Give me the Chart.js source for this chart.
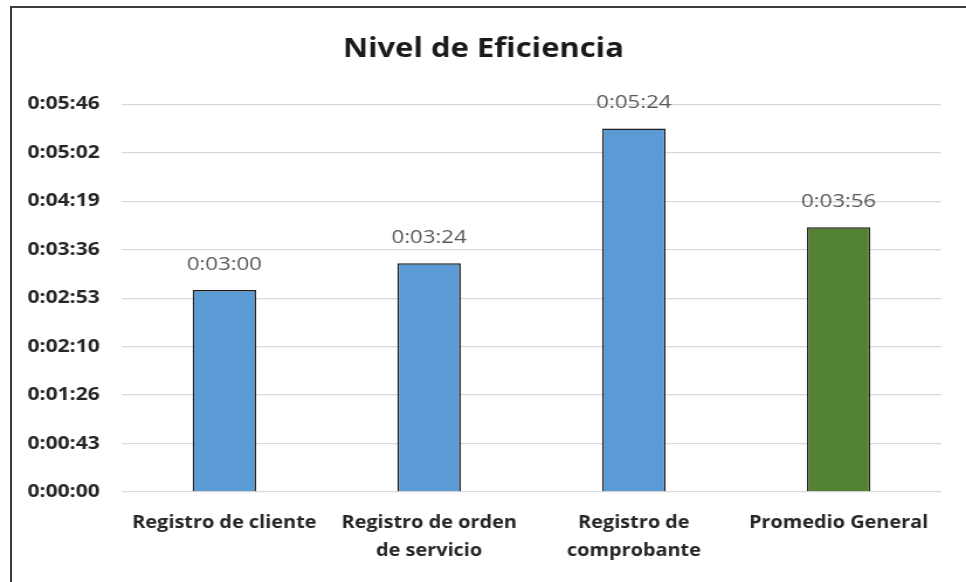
<!DOCTYPE html>
<html>
<head>
<meta charset="utf-8">
<script src="https://cdn.jsdelivr.net/npm/chart.js@4/dist/chart.umd.min.js"></script>
<style>
    body { margin: 0; background: #fff; overflow: hidden; }
    #frame { position: absolute; left: 10px; top: 6px; width: 1000px; height: 640px; border: 2px solid #3c3c3c; }
    /* the source picture is drawn a little wide, so stretch the chart horizontally */
    #wrap { position: absolute; left: 0; top: 0; width: 826px; height: 582px; transform: scaleX(1.1695); transform-origin: 0 0; }
</style>
</head>
<body>
<div id="frame"></div>
<div id="wrap"><canvas id="myChart"></canvas></div>
<script>
// categories and values (seconds)
const labels = [
    "Registro de cliente",
    ["Registro de orden", "de servicio"],
    ["Registro de", "comprobante"],
    "Promedio General"
];
const seconds = [180, 204, 324, 236];
const barColors = ["#5b9bd5", "#5b9bd5", "#5b9bd5", "#548235"];

// y axis ticks as shown in the picture
const tickValues = [0, 43.2, 86.4, 129.6, 172.8, 216, 259.2, 302.4, 345.6];
const tickLabels = ["0:00:00", "0:00:43", "0:01:26", "0:02:10", "0:02:53", "0:03:36", "0:04:19", "0:05:02", "0:05:46"];

function fmt(s) {
    s = Math.round(s);
    const h = Math.floor(s / 3600);
    const m = Math.floor((s % 3600) / 60);
    const sec = s % 60;
    return h + ":" + String(m).padStart(2, "0") + ":" + String(sec).padStart(2, "0");
}

const valueLabels = {
    id: 'valueLabels',
    afterDatasetsDraw(chart) {
        const ctx = chart.ctx;
        const meta = chart.getDatasetMeta(0);
        ctx.save();
        ctx.font = "19px 'Open Sans', sans-serif";
        ctx.fillStyle = "#595959";
        ctx.textAlign = "center";
        ctx.textBaseline = "bottom";
        meta.data.forEach(function(bar, i) {
            ctx.fillText(fmt(seconds[i]), bar.x, bar.y - 16);
        });
        ctx.restore();
    }
};

new Chart(document.getElementById("myChart"), {
    type: 'bar',
    data: {
        labels: labels,
        datasets: [{
            data: seconds,
            backgroundColor: barColors,
            borderColor: "#1c1c1c",
            borderWidth: 1.5,
            borderSkipped: 'bottom',
            barPercentage: 0.31,
            categoryPercentage: 1
        }]
    },
    options: {
        responsive: true,
        maintainAspectRatio: false,
        animation: false,
        layout: { padding: { left: 22, right: 21.4, top: 0, bottom: 10 } },
        plugins: {
            legend: { display: false },
            tooltip: { enabled: false },
            title: {
                display: true,
                text: 'Nivel de Eficiencia',
                color: "#1a1a1a",
                font: { family: "'Open Sans'", size: 26.5, weight: 'bold' },
                padding: { top: 34, bottom: 38.5 }
            }
        },
        scales: {
            x: {
                grid: { display: false, drawTicks: false },
                border: { display: false },
                ticks: {
                    color: "#262626",
                    font: { family: "'Open Sans'", size: 17, weight: 'bold', lineHeight: 1.6 },
                    padding: 18,
                    maxRotation: 0,
                    autoSkip: false
                },
                afterFit: function(scale) { scale.height = 80; }
            },
            y: {
                min: 0,
                max: 345.6,
                grid: { color: "#d9d9d9", lineWidth: 1.3, drawTicks: false },
                border: { display: false },
                afterBuildTicks: function(scale) {
                    scale.ticks = tickValues.map(function(v) { return { value: v }; });
                },
                ticks: {
                    color: "#262626",
                    font: { family: "'Open Sans'", size: 18, weight: 'bold' },
                    padding: 19,
                    callback: function(value, index) { return tickLabels[index]; }
                },
                afterFit: function(scale) { scale.width = 82.3; }
            }
        }
    },
    plugins: [valueLabels]
});
</script>
</body>
</html>
